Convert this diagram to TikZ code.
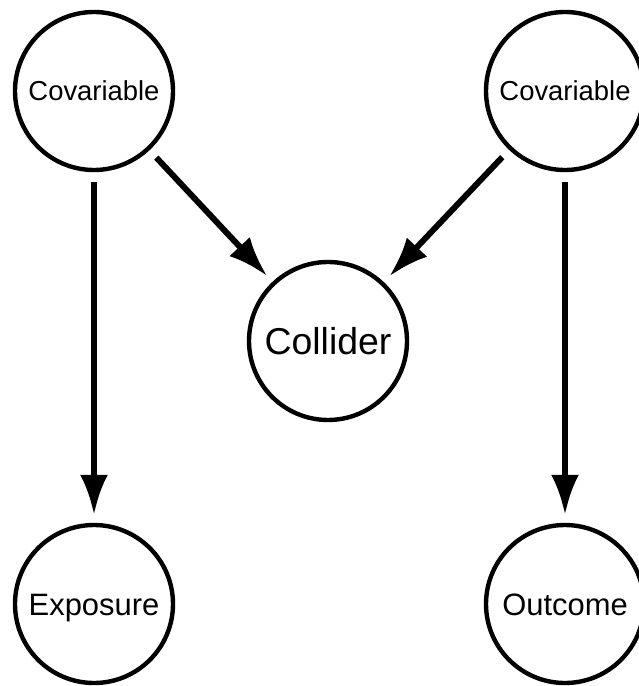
\documentclass[tikz,border=0pt]{standalone}
\usepackage{fontspec}
\setmainfont{Liberation Sans}
\usetikzlibrary{arrows.meta}
\tikzset{
    var/.style={draw, circle, line width=2.5pt, minimum size=3.16cm, inner sep=0pt,
        text depth=0pt, text height=12.6pt, font=\fontsize{17.6}{20}\selectfont},
    cov/.style={text height=11.2pt, font=\fontsize{15.6}{18}\selectfont},
    big/.style={text height=15.3pt, font=\fontsize{21.3}{25}\selectfont},
    link/.style={->, line width=3.4pt, shorten >=0.16cm, shorten <=0.2cm}
}
\begin{document}
\begin{tikzpicture}[>={Latex[length=0.8cm,width=0.56cm]}]
\useasboundingbox (0,0) rectangle (12.76,-13.72);
\node[var, cov] (covl) at (1.88,-1.82) {Covariable};
\node[var, cov] (covr) at (11.30,-1.82) {Covariable};
\node[var, big] (coll) at (6.56,-6.82) {Collider};
\node[var] (expo) at (1.88,-12.08) {Exposure};
\node[var] (outc) at (11.30,-12.08) {Outcome};
\draw[link] (covl)--(expo);
\draw[link] (covl)--(coll);
\draw[link] (covr)--(coll);
\draw[link] (covr)--(outc);
\end{tikzpicture}
\end{document}
